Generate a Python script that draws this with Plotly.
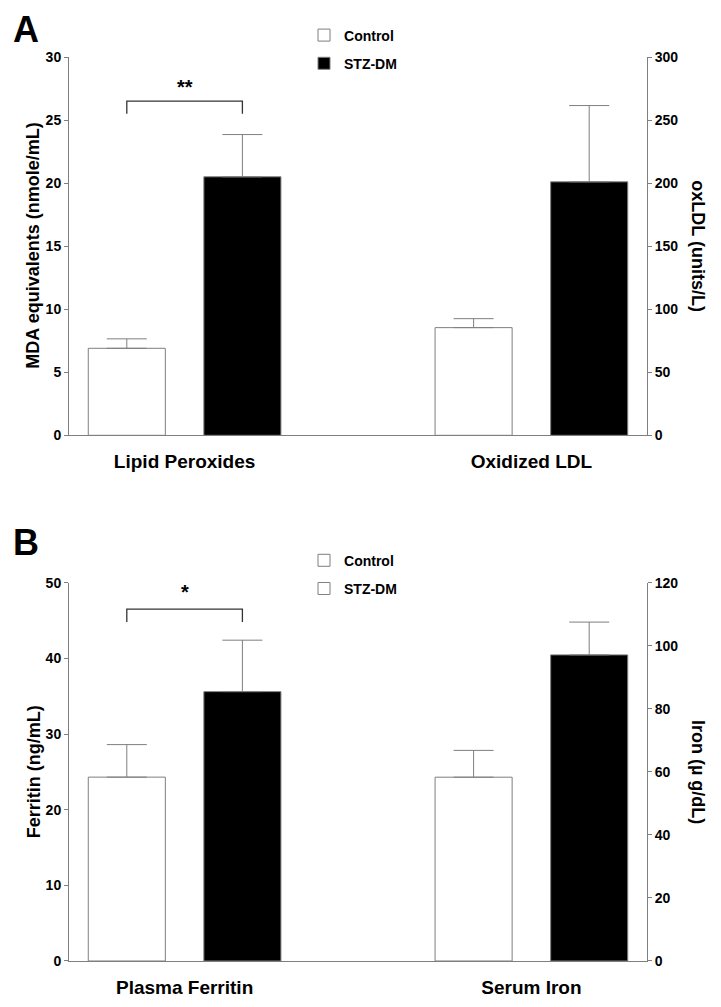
import plotly.graph_objects as go

# ---------------- data ----------------
groups = ["Control", "STZ-DM"]

cats_a = ["Lipid Peroxides", "Oxidized LDL"]
lipid_vals = [6.9, 20.5]        # MDA equivalents (nmole/mL)
lipid_err = [0.75, 3.35]
oxldl_vals = [85.4, 201.0]      # oxLDL (units/L)
oxldl_err = [7.1, 60.5]

cats_b = ["Plasma Ferritin", "Serum Iron"]
ferritin_vals = [24.3, 35.6]    # Ferritin (ng/mL)
ferritin_err = [4.3, 6.8]
iron_vals = [58.3, 97.1]        # Iron (µg/dL)
iron_err = [8.5, 10.4]

sig_a = "**"
sig_b = "*"

# ---------------- style ----------------
FONT = "Liberation Sans, Arial, sans-serif"
GRAY = "#7f7f7f"
fills = ["white", "black"]
BARGAP = 1 / 3
BARGROUPGAP = 1 / 3
half = (1 - BARGAP) / 4  # offset of each bar centre from the category centre

fig = go.Figure()


def add_bars(cat, vals, errs, xa, ya):
    for i, g in enumerate(groups):
        fig.add_trace(go.Bar(
            x=[cat], y=[vals[i]], name=g, showlegend=False,
            offsetgroup=g, xaxis=xa, yaxis=ya,
            marker=dict(color=fills[i], line=dict(color=GRAY, width=1)),
            error_y=dict(type="data", symmetric=False, array=[errs[i]],
                         arrayminus=[0], color=GRAY, thickness=1, width=20),
        ))


add_bars(cats_a[0], lipid_vals, lipid_err, "x", "y")
add_bars(cats_a[1], oxldl_vals, oxldl_err, "x", "y2")
add_bars(cats_b[0], ferritin_vals, ferritin_err, "x2", "y3")
add_bars(cats_b[1], iron_vals, iron_err, "x2", "y4")

# legend entries (panel B legend shows both boxes white, as in the original)
legend_fills = {"legend": fills, "legend2": ["white", "white"]}
for lg, fl in legend_fills.items():
    for i, g in enumerate(groups):
        fig.add_trace(go.Bar(
            x=[None], y=[None], name=g, legend=lg, legendgroup=lg + g,
            xaxis="x" if lg == "legend" else "x2",
            yaxis="y" if lg == "legend" else "y3",
            marker=dict(color=fl[i], line=dict(color=GRAY, width=1)),
        ))

# ---------------- significance brackets ----------------
def bracket(xref, yref, top, leg, text, star_y):
    x0, x1 = -half, half
    fig.add_shape(type="path", xref=xref, yref=yref,
                  path=f"M {x0},{leg} L {x0},{top} L {x1},{top} L {x1},{leg}",
                  line=dict(color="#333333", width=1.3))
    fig.add_annotation(x=0, y=star_y, xref=xref, yref=yref, text=f"<b>{text}</b>",
                       showarrow=False, font=dict(family=FONT, size=20, color="black"),
                       yanchor="middle")


bracket("x", "y", 26.5, 25.5, sig_a, 27.6)
bracket("x2", "y3", 46.5, 44.8, sig_b, 48.8)

# ---------------- axes ----------------
tickfont = dict(family=FONT, size=14, color="black", weight="bold")
catfont = dict(family=FONT, size=19, color="black", weight="bold")
common_y = dict(showline=True, linecolor=GRAY, linewidth=1, ticks="outside",
                ticklen=4, tickcolor=GRAY, tickfont=tickfont, showgrid=False,
                zeroline=False, fixedrange=True, automargin=False)
common_x = dict(showline=True, linecolor=GRAY, linewidth=1, ticks="",
                tickfont=catfont, showgrid=False, zeroline=False, automargin=False,
                type="category", range=[-1 / 3, 4 / 3], ticklabelstandoff=9)

legfont = dict(family=FONT, size=14, color="black", weight="bold")
fig.update_layout(
    width=713, height=999,
    paper_bgcolor="white", plot_bgcolor="white",
    margin=dict(l=61, r=74, t=49, b=46, autoexpand=False),
    barmode="group", bargap=BARGAP, bargroupgap=BARGROUPGAP,
    font=dict(family=FONT, color="black"),
    xaxis=dict(common_x, domain=[0, 1], anchor="y", categoryarray=cats_a,
               categoryorder="array"),
    yaxis=dict(common_y, domain=[0.5815, 1], range=[0, 30], dtick=5, anchor="x"),
    yaxis2=dict(common_y, overlaying="y", side="right", range=[0, 300], dtick=50,
                anchor="x"),
    xaxis2=dict(common_x, domain=[0, 1], anchor="y3", categoryarray=cats_b,
                categoryorder="array"),
    yaxis3=dict(common_y, domain=[0, 0.4185], range=[0, 50], dtick=10, anchor="x2"),
    yaxis4=dict(common_y, overlaying="y3", side="right", range=[0, 120], dtick=20,
                anchor="x2"),
    legend=dict(x=0.4066, y=1.0415, xanchor="left", yanchor="top", font=legfont,
                tracegroupgap=7, bgcolor="rgba(0,0,0,0)"),
    legend2=dict(x=0.4066, y=0.4605, xanchor="left", yanchor="top", font=legfont,
                 tracegroupgap=7, bgcolor="rgba(0,0,0,0)"),
    showlegend=True,
)

# axis titles
titlefont = dict(family=FONT, size=18, color="black", weight="bold")
titles = [
    ("MDA equivalents (nmole/mL)", "y domain", -0.0614, -90),
    ("oxLDL (units/L)", "y domain", 1.088, 90),
    ("Ferritin (ng/mL)", "y3 domain", -0.0614, -90),
    ("Iron (µ g/dL)", "y3 domain", 1.088, 90),
]
for txt, yref, xpos, ang in titles:
    fig.add_annotation(text=txt, xref="paper", yref=yref, x=xpos, y=0.5,
                       textangle=ang, showarrow=False, font=titlefont,
                       xanchor="center", yanchor="middle")

# panel letters
for letter, ypos in [("A", 1.0308), ("B", 0.4624)]:
    fig.add_annotation(text=letter, xref="paper", yref="paper", x=-0.0744, y=ypos,
                       showarrow=False, xanchor="center", yanchor="middle",
                       borderpad=0,
                       font=dict(family=FONT, size=36, color="black", weight="bold"))

fig.write_html("out.html")
